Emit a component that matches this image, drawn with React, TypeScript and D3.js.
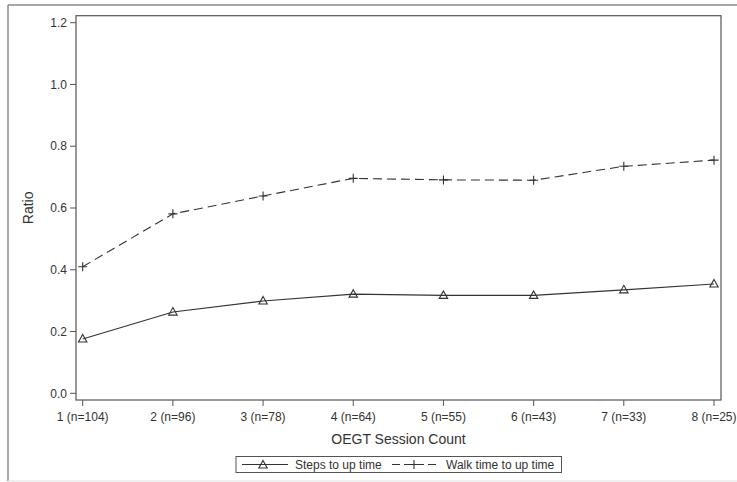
import React from "react";
import * as d3 from "d3";

const sessions = ["1 (n=104)", "2 (n=96)", "3 (n=78)", "4 (n=64)", "5 (n=55)", "6 (n=43)", "7 (n=33)", "8 (n=25)"];
const stepsToUpTime = [0.176, 0.263, 0.299, 0.321, 0.317, 0.317, 0.335, 0.354];
const walkToUpTime = [0.41, 0.581, 0.639, 0.696, 0.691, 0.69, 0.735, 0.755];
const yTicks = [0, 0.2, 0.4, 0.6, 0.8, 1.0, 1.2];

const W = 737;
const H = 482;
const plot = { left: 76, top: 15.7, right: 721, bottom: 400 };
const ink = "#333";
const font = "'Liberation Sans', Arial, sans-serif";

function App() {
  const x = d3
    .scalePoint<string>()
    .domain(sessions)
    .range([82.7, 714]);

  const y = d3
    .scaleLinear()
    .domain([0, 1.2])
    .range([393.3, 22.7]);

  const line = d3
    .line<number>()
    .x((d, i) => x(sessions[i]) as number)
    .y(d => y(d));

  const tri = "M0,-4.5 L4.2,3 L-4.2,3 Z";
  const plus = "M-4.5,0 H4.5 M0,-4.5 V4.5";

  return (
    <svg
      width={W}
      height={H}
      style={{ position: "absolute", left: 0, top: 0, fontFamily: font }}
    >
      <rect x={0} y={0} width={W} height={H} fill="#fff" />
      {/* outer frame: right side runs off the picture */}
      <line x1={8} x2={W} y1={5} y2={5} stroke="#8a8a8a" strokeWidth={1.5} />
      <line x1={8} x2={8} y1={5} y2={481} stroke="#8a8a8a" strokeWidth={1.5} />
      <line x1={8} x2={W} y1={481} y2={481} stroke="#e2e2e2" strokeWidth={1} />

      {/* plot frame */}
      <rect
        x={plot.left}
        y={plot.top}
        width={plot.right - plot.left}
        height={plot.bottom - plot.top}
        fill="none"
        stroke="#555"
        strokeWidth={1.2}
      />

      {/* y axis */}
      {yTicks.map(t => (
        <g key={t} transform={`translate(0,${y(t)})`}>
          <line x1={plot.left - 6} x2={plot.left} stroke="#555" />
          <text x={plot.left - 9} dy="0.35em" textAnchor="end" fontSize={12} fill={ink}>
            {t.toFixed(1)}
          </text>
        </g>
      ))}
      <text
        transform={`translate(33,${(plot.top + plot.bottom) / 2}) rotate(-90)`}
        textAnchor="middle"
        fontSize={14}
        fill={ink}
      >
        Ratio
      </text>

      {/* x axis */}
      {sessions.map(s => (
        <g key={s} transform={`translate(${x(s)},0)`}>
          <line y1={plot.bottom} y2={plot.bottom + 6} stroke="#555" />
          <text y={plot.bottom + 21} textAnchor="middle" fontSize={12} fill={ink}>
            {s}
          </text>
        </g>
      ))}
      <text x={(plot.left + plot.right) / 2} y={444} textAnchor="middle" fontSize={14} fill={ink}>
        OEGT Session Count
      </text>

      {/* series */}
      <path d={line(walkToUpTime) || ""} fill="none" stroke={ink} strokeWidth={1.1} strokeDasharray="9,5" />
      <path d={line(stepsToUpTime) || ""} fill="none" stroke={ink} strokeWidth={1.1} />
      {walkToUpTime.map((v, i) => (
        <path key={"w" + i} d={plus} transform={`translate(${x(sessions[i])},${y(v)})`} stroke={ink} strokeWidth={1.1} fill="none" />
      ))}
      {stepsToUpTime.map((v, i) => (
        <path key={"s" + i} d={tri} transform={`translate(${x(sessions[i])},${y(v)})`} stroke={ink} strokeWidth={1.1} fill="none" />
      ))}

      {/* legend */}
      <rect x={236} y={456.5} width={325.5} height={16} fill="none" stroke="#555" strokeWidth={1} />
      <line x1={242} x2={288} y1={464.5} y2={464.5} stroke={ink} strokeWidth={1.1} />
      <path d={tri} transform="translate(263,465)" stroke={ink} strokeWidth={1.1} fill="none" />
      <text x={295} y={469} fontSize={12} fill={ink}>Steps to up time</text>
      <line x1={392} x2={438} y1={464.5} y2={464.5} stroke={ink} strokeWidth={1.1} strokeDasharray="8,4" />
      <path d={plus} transform="translate(414,464.5)" stroke={ink} strokeWidth={1.1} fill="none" />
      <text x={446} y={469} fontSize={12} fill={ink}>Walk time to up time</text>
    </svg>
  );
}

export default App;
